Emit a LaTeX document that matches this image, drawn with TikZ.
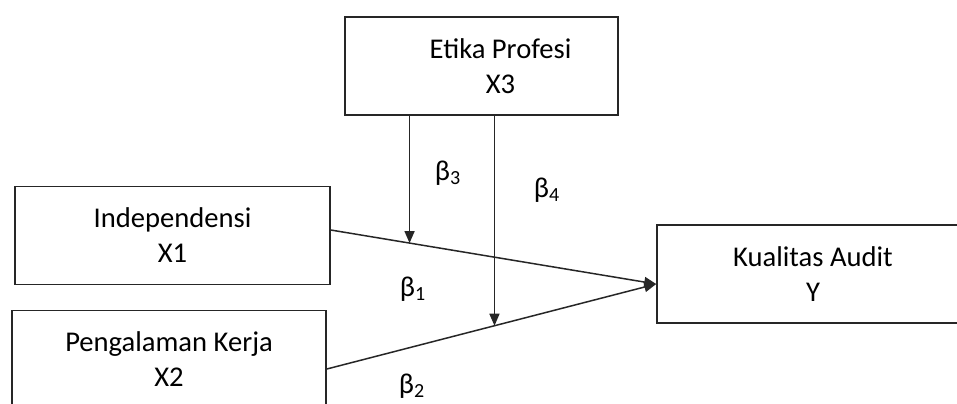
\documentclass[tikz,border=0pt]{standalone}
\usepackage{fontspec}
\setmainfont{Carlito}
\usetikzlibrary{arrows.meta}

\begin{document}
\begin{tikzpicture}[x=0.5pt, y=-0.5pt, font=\fontsize{14.3}{17.5}\selectfont,
    var/.style={draw=black!85, line width=0.8pt, align=center, inner sep=0pt,
      minimum width=#1, minimum height=49pt},
    link/.style={black!85, line width=0.75pt, -{Triangle[length=6pt, width=5pt]}}]
      \clip (0,0) rectangle (957,403);

      \node[var=136.5pt] at (481.5,66) (x3) {\hspace*{19pt}Etika Profesi\\\hspace*{19pt}X3};
      \node[var=157.5pt] at (172.5,235.5) (x1) {Independensi\\X1};
      \node[var=157pt] at (169,359.5) (x2) {Pengalaman Kerja\\X2};
      \node[var=156pt] at (813,274) (y) {Kualitas Audit\\Y};

      \draw[link] ([yshift=2.75pt]x1.east) -- coordinate[pos=0.242] (m1) ([yshift=-5pt]y.west);
      \draw[link] ([yshift=-4.75pt]x2.east) -- coordinate[pos=0.509] (m2) ([yshift=-5pt]y.west);

      % moderasi
      \draw[link] (x3.south -| m1) -- (m1);
      \draw[link] (x3.south -| m2) -- (m2);

      \node at (448,173) (b3) {β\textsubscript{3}};
      \node at (547,190) (b4) {β\textsubscript{4}};
      \node at (413,289) (b1) {β\textsubscript{1}};
      \node at (412,386) (b2) {β\textsubscript{2}};
    \end{tikzpicture}
\end{document}
